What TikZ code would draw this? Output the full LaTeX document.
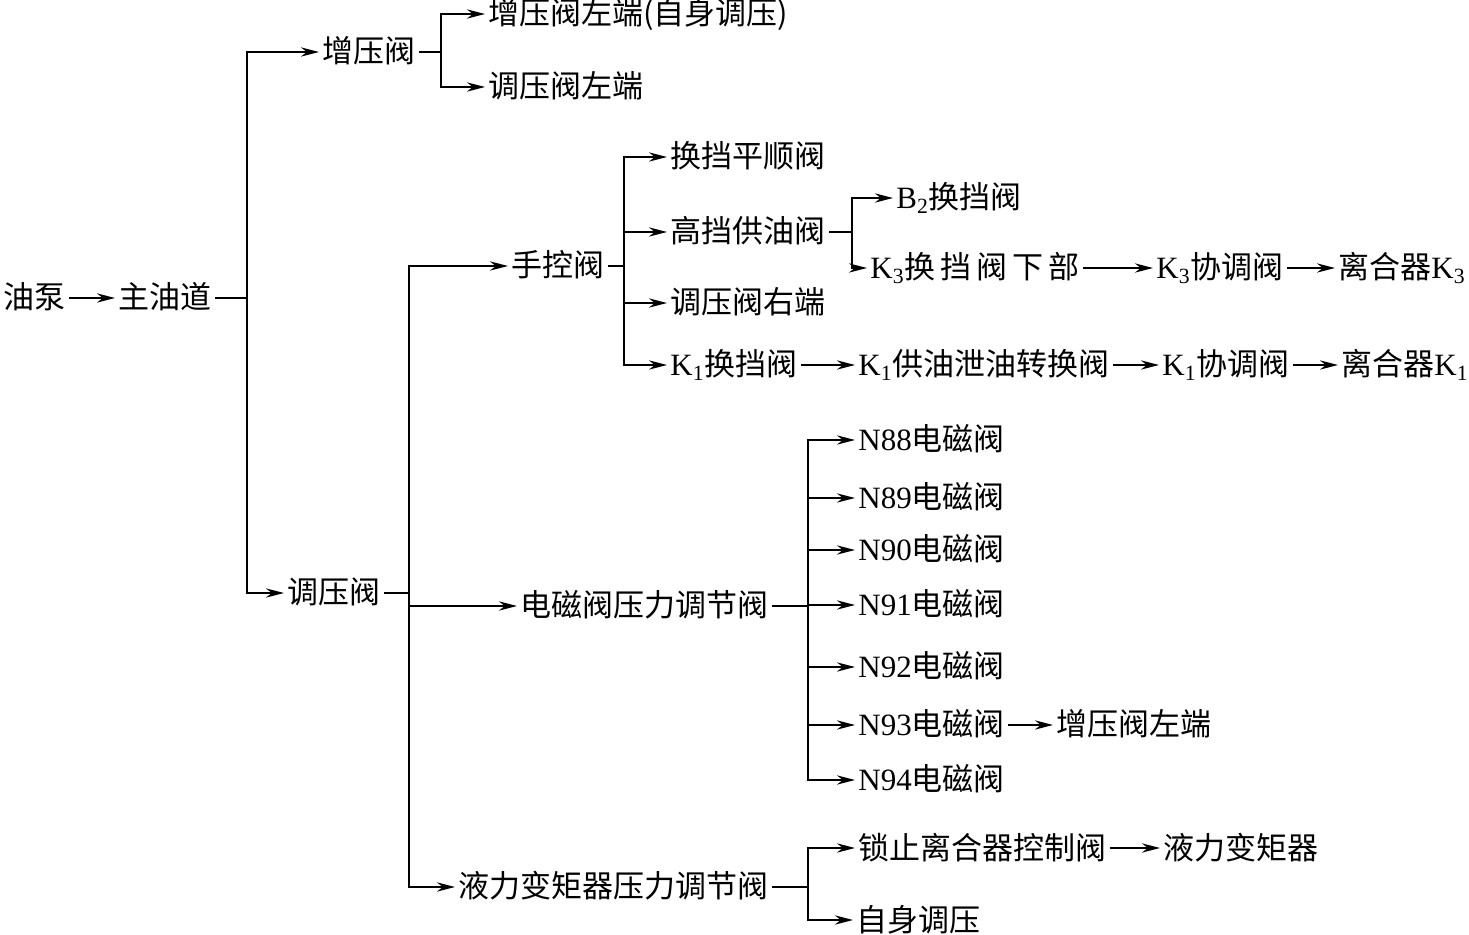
\documentclass[tikz,border=0pt]{standalone}
\usepackage{fontspec}
\setmainfont{Liberation Serif}
\newfontfamily\cjk{Noto Sans CJK SC}
\usetikzlibrary{arrows.meta}
\newcommand\ltn[1]{{\rmfamily #1}}
\begin{document}
\begin{tikzpicture}[x=0.5pt, y=-0.5pt,
  txt/.style={anchor=west, inner sep=1.5pt, text height=13pt, text depth=2pt,
    font=\fontsize{15.5pt}{18pt}\selectfont\cjk},
  ln/.style={line width=1.1pt},
  arr/.style={ln, -{Stealth[length=9pt, width=4.6pt]}}
]
\useasboundingbox (0,0) rectangle (1469,935);
% first levels
\node[txt] (yb) at (0,298) {油泵};
\node[txt] (zyd) at (115,298) {主油道};
\node[txt] (zyf) at (319,52) {增压阀};
\node[txt] (zyfl) at (485,14) {增压阀左端(自身调压)};
\node[txt] (tyfl) at (485,87) {调压阀左端};
\node[txt] (tyf) at (284,593) {调压阀};
% manual valve branch
\node[txt] (skf) at (508,266) {手控阀};
\node[txt] (hdph) at (667,157) {换挡平顺阀};
\node[txt] (gdgy) at (667,232) {高挡供油阀};
\node[txt] (bhd) at (893,198) {\ltn{B\textsubscript{2}}换挡阀};
\node[txt] (k3h) at (867,268) {\ltn{K\textsubscript{3}}\addfontfeature{LetterSpace=16}换挡阀下部};
\node[txt] (k3x) at (1153,268) {\ltn{K\textsubscript{3}}协调阀};
\node[txt] (lk3) at (1335,268) {离合器\ltn{K\textsubscript{3}}};
\node[txt] (tyfr) at (667,303) {调压阀右端};
\node[txt] (k1h) at (667,365) {\ltn{K\textsubscript{1}}换挡阀};
\node[txt] (k1g) at (855,365) {\ltn{K\textsubscript{1}}供油泄油转换阀};
\node[txt] (k1x) at (1159,365) {\ltn{K\textsubscript{1}}协调阀};
\node[txt] (lk1) at (1338,365) {离合器\ltn{K\textsubscript{1}}};
% solenoid branch
\node[txt] (dcf) at (517,606) {电磁阀压力调节阀};
\foreach \n/\y in {88/440,89/498,90/550,91/605,92/667,93/725,94/780} {
  \node[txt] (n\n) at (855,\y) {\ltn{N\n}电磁阀};
}
\node[txt] (zyfl2) at (1053,725) {增压阀左端};
% converter branch
\node[txt] (ylf) at (455,887) {液力变矩器压力调节阀};
\node[txt] (szf) at (855,848) {锁止离合器控制阀};
\node[txt] (ylb) at (1160,848) {液力变矩器};
\node[txt] (zstz) at (853,920) {自身调压};

% junctions
\coordinate (j1) at (247,298);
\coordinate (j2) at (441,52);
\coordinate (j3) at (409,593);
\coordinate (j4) at (624,266);
\coordinate (j5) at (852,232);
\coordinate (j6) at (808,606);
\coordinate (j7) at (808,887);

\draw[arr] (yb) -- (zyd);
\draw[ln] (zyd.east) -- (j1);
\draw[arr] (j1) |- (zyf.west);
\draw[arr] (j1) |- (tyf.west);
\draw[ln] (zyf.east) -- (j2);
\draw[arr] (j2) |- (zyfl.west);
\draw[arr] (j2) |- (tyfl.west);
\draw[ln] (tyf.east) -- (j3);
\foreach \t in {skf,dcf,ylf} {
  \draw[arr] (j3) |- (\t.west);
}
\draw[ln] (skf.east) -- (j4);
\foreach \t in {hdph,gdgy,tyfr,k1h} {
  \draw[arr] (j4) |- (\t.west);
}
\draw[ln] (gdgy.east) -- (j5);
\draw[arr] (j5) |- (bhd.west);
\draw[arr] (j5) |- (k3h.west);
\draw[arr] (k3h) -- (k3x);
\draw[arr] (k3x) -- (lk3);
\draw[arr] (k1h) -- (k1g);
\draw[arr] (k1g) -- (k1x);
\draw[arr] (k1x) -- (lk1);
\draw[ln] (dcf.east) -- (j6);
\foreach \n in {88,...,94} {
  \draw[arr] (j6) |- (n\n.west);
}
\draw[arr] (n93) -- (zyfl2);
\draw[ln] (ylf.east) -- (j7);
\draw[arr] (j7) |- (szf.west);
\draw[arr] (j7) |- (zstz.west);
\draw[arr] (szf) -- (ylb);
\end{tikzpicture}
\end{document}
